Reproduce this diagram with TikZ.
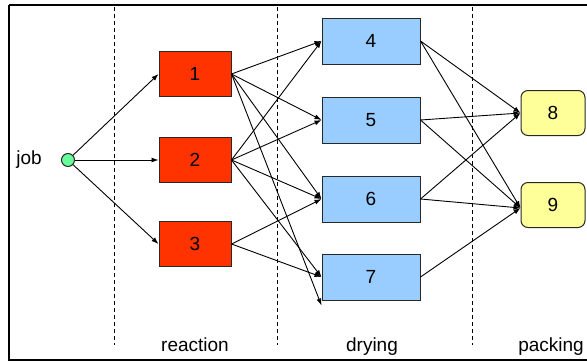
\documentclass[tikz,border=0pt]{standalone}
\usepackage{fontspec}
\setmainfont{Liberation Sans}
\usetikzlibrary{arrows.meta}
\definecolor{reactfill}{RGB}{255,51,0}
\definecolor{dryfill}{RGB}{153,204,255}
\definecolor{packfill}{RGB}{255,255,153}
\definecolor{startfill}{RGB}{102,255,153}
\definecolor{boxline}{RGB}{40,40,40}
\begin{document}
\begin{tikzpicture}[x=1pt,y=-1pt,
  font=\fontsize{19}{22}\selectfont,
  unit/.style={draw=boxline,line width=1pt,inner sep=0pt,anchor=center},
  reactbox/.style={unit,fill=reactfill,minimum width=72pt,minimum height=45pt},
  drybox/.style={unit,fill=dryfill,minimum width=98pt,minimum height=46pt},
  packbox/.style={unit,fill=packfill,minimum width=64pt,minimum height=45pt,rounded corners=7pt},
  startdot/.style={circle,draw=boxline,line width=1pt,fill=startfill,minimum size=13pt,inner sep=0pt},
  flow/.style={line width=0.9pt,-{Latex[length=7pt,width=5pt]}},
  stage/.style={line width=1pt,dash pattern=on 4pt off 3pt},
  caption/.style={inner sep=0pt,anchor=base}]
  \useasboundingbox (0,0) rectangle (587,362);
  % frame
  \draw[line width=2.5pt] (9,5) -- (600,5) (9,5) -- (9,360) -- (600,360);
  % stage separators
  \draw[stage] (114,7) -- (114,345);
  \draw[stage] (277,7) -- (277,345);
  \draw[stage] (472,7) -- (472,345);
  % stage captions
  \node[caption] (lreact) at (195,351) {reaction};
  \node[caption] (ldry) at (372,351) {drying};
  \node[caption] (lpack) at (551,351) {packing};
  % start
  \node[startdot] (job) at (68,160) {};
  \node[inner sep=0pt] (jobtxt) at (29,160) {job};
  % reaction units
  \node[reactbox] (n1) at (195,74) {1};
  \node[reactbox] (n2) at (195,160) {2};
  \node[reactbox] (n3) at (195,244) {3};
  % drying units
  \node[drybox] (n4) at (371,41) {4};
  \node[drybox] (n5) at (371,120) {5};
  \node[drybox] (n6) at (371,199) {6};
  \node[drybox] (n7) at (371,277) {7};
  % packing units
  \node[packbox] (n8) at (553,113) {8};
  \node[packbox] (n9) at (553,205) {9};
  % job to reaction
  \draw[flow] (job) -- (n1.west);
  \draw[flow] (job) -- (n2.west);
  \draw[flow] (job) -- (n3.west);
  % reaction to drying
  \draw[flow] (n1.east) -- (n4.west);
  \draw[flow] (n1.east) -- (n5.west);
  \draw[flow] (n1.east) -- (n6.west);
  \draw[flow] (n1.east) -- ([yshift=-5pt]n7.south west);
  \draw[flow] (n2.east) -- (n4.west);
  \draw[flow] (n2.east) -- (n5.west);
  \draw[flow] (n2.east) -- (n6.west);
  \draw[flow] (n2.east) -- (n7.west);
  \draw[flow] (n3.east) -- (n6.west);
  \draw[flow] (n3.east) -- (n7.west);
  % drying to packing
  \draw[flow] (n4.east) -- (n8.west);
  \draw[flow] (n4.east) -- ([yshift=-3pt]n9.west);
  \draw[flow] (n5.east) -- (n8.west);
  \draw[flow] (n5.east) -- ([yshift=-3pt]n9.west);
  \draw[flow] (n6.east) -- (n8.west);
  \draw[flow] (n6.east) -- ([yshift=-3pt]n9.west);
  \draw[flow] (n7.east) -- ([yshift=-3pt]n9.west);
\end{tikzpicture}
\end{document}
